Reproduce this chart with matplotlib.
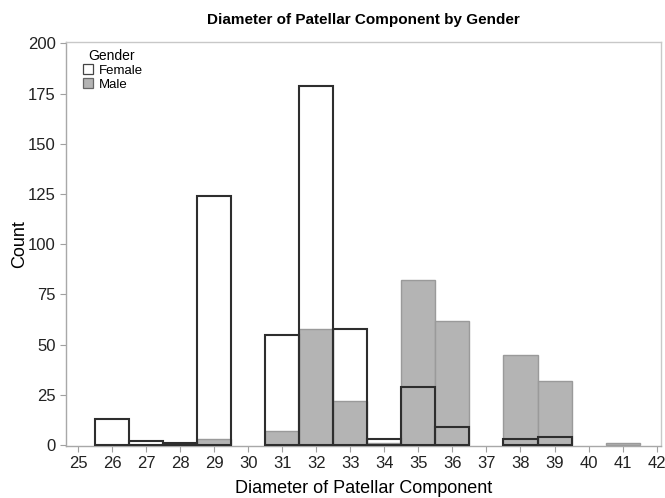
import numpy as np
from matplotlib import pyplot as plt
from matplotlib.patches import Patch

diameters = [26, 27, 28, 29, 30, 31, 32, 33, 34, 35, 36, 37, 38, 39, 40, 41]
female = [13, 2, 1, 124, 0, 55, 179, 58, 3, 29, 9, 0, 3, 4, 0, 0]
male = [0, 0, 1, 3, 0, 7, 58, 22, 1, 82, 62, 0, 45, 32, 0, 1]
x_ticks = list(range(25, 43))
y_ticks = [0, 25, 50, 75, 100, 125, 150, 175, 200]

plt.rcParams['font.family'] = ['Liberation Sans', 'DejaVu Sans']

d = np.array(diameters)
f = np.array(female)
m = np.array(male)
fk = f > 0
mk = m > 0

fig = plt.figure(figsize=(6.65, 4.98), dpi=100)
ax = fig.add_axes([0.0992, 0.1044, 0.8948, 0.8103])

# female fill first, male on top, then female outlines over everything
ax.bar(d[fk], f[fk], width=1.0, color='white', edgecolor='none', zorder=1)
ax.bar(d[mk], m[mk], width=1.0, color='#b4b4b4', edgecolor='#9a9a9a',
       linewidth=1.0, zorder=2)
ax.bar(d[fk], f[fk], width=1.0, fill=False, edgecolor='#2e2e2e',
       linewidth=1.5, zorder=3)

ax.set_xlim(24.64, 42.13)
ax.set_ylim(-0.5, 200.5)
ax.set_xticks(x_ticks)
ax.set_yticks(y_ticks)
ax.tick_params(axis='both', labelsize=12, length=4, color='#a0a0a0',
               labelcolor='#222222', width=0.8)

for side in ['top', 'right']:
    ax.spines[side].set_color('#c8c8c8')
    ax.spines[side].set_linewidth(1.0)
for side in ['left', 'bottom']:
    ax.spines[side].set_color('#a8a8a8')
    ax.spines[side].set_linewidth(1.0)

ax.set_xlabel('Diameter of Patellar Component', fontsize=13, labelpad=6)
ax.set_ylabel('Count', fontsize=13, labelpad=0)
ax.set_title('Diameter of Patellar Component by Gender', fontsize=11,
             fontweight='bold', pad=13)

handles = [Patch(facecolor='white', edgecolor='#444444', linewidth=0.9),
           Patch(facecolor='#b4b4b4', edgecolor='#666666', linewidth=0.9)]
leg = ax.legend(handles, ['Female', 'Male'], title='Gender', loc='upper left',
                bbox_to_anchor=(0.028, 0.985),
                frameon=False, fontsize=9.5, title_fontsize=10,
                handlelength=0.75, handleheight=0.75, handletextpad=0.5,
                labelspacing=0.12, borderaxespad=0.0, borderpad=0.0)
leg._legend_box.align = 'left'
leg.get_title().set_position((6, 0))

fig.savefig('out.png', dpi=100)
